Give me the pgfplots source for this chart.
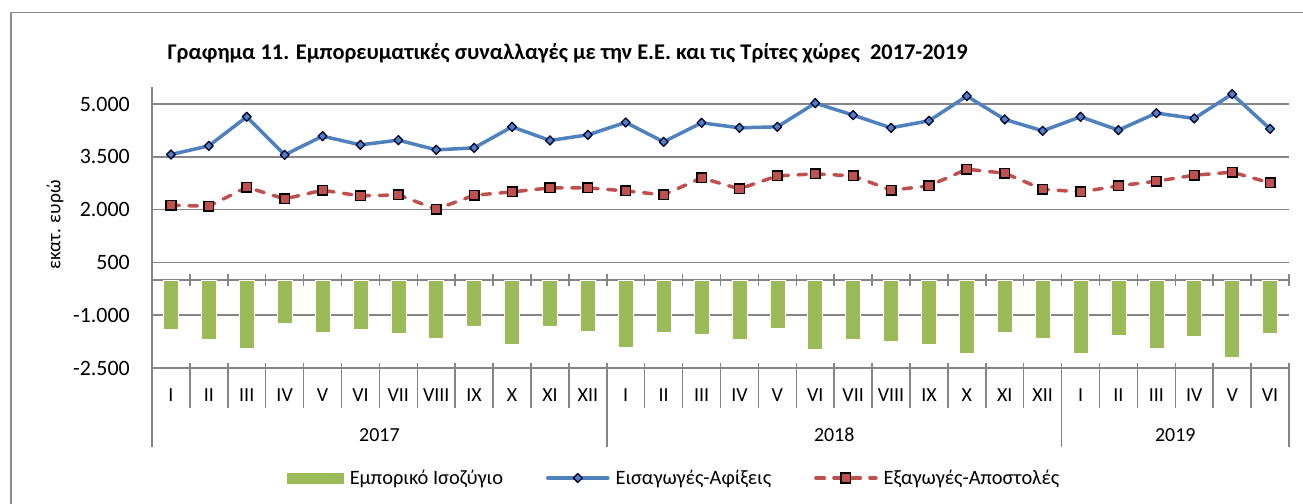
\documentclass[border=0pt]{standalone}
\usepackage{fontspec}
\setmainfont{Carlito}
\usepackage{pgfplots}
\pgfplotsset{compat=1.18}
\definecolor{barfill}{HTML}{9BBB59}
\definecolor{blueline}{HTML}{4F81BD}
\definecolor{redline}{HTML}{C0504D}
\definecolor{gridgray}{HTML}{868686}
\definecolor{framegray}{HTML}{8C8C8C}

\begin{document}
\begin{tikzpicture}
\begin{axis}[
  at={(152bp,136bp)}, anchor=south west,
  scale only axis, width=1137bp, height=281.5bp,
  xmin=-0.5, xmax=29.5, ymin=-2500, ymax=5500,
  clip=false,
  axis line style={draw=none},
  tick style={draw=none}, major tick length=0pt,
  ytick={-2500,-1000,500,2000,3500,5000},
  yticklabels={-2.500,-1.000,500,2.000,3.500,5.000},
  yticklabel style={font=\fontsize{22}{26}\selectfont, anchor=east, inner sep=0pt, xshift=-22bp},
  ymajorgrids, grid style={gridgray, line width=1.5bp},
  xtick={0,...,29},
  xticklabels={I,II,III,IV,V,VI,VII,VIII,IX,X,XI,XII,I,II,III,IV,V,VI,VII,VIII,IX,X,XI,XII,I,II,III,IV,V,VI},
  xticklabel style={font=\fontsize{20}{24}\selectfont, anchor=base, inner sep=0pt, yshift=-33.7bp},
  legend columns=3,
  legend style={at={(0.1187,-0.3908)}, anchor=west, draw=none, fill=none, inner sep=0pt,
    font=\fontsize{20.5}{24}\selectfont, nodes={inner sep=0pt},
    /tikz/every odd column/.style={column sep=6bp},
    /tikz/every even column/.style={column sep=43bp}},
]
% category axis at zero with crossing ticks
\draw[gridgray, line width=1.5bp] (axis cs:-0.5,0) -- (axis cs:29.5,0);
\pgfplotsinvokeforeach{0.5,1.5,...,29.5}{
  \draw[gridgray, line width=1.5bp] ([yshift=6bp]axis cs:#1,0) -- ([yshift=-6bp]axis cs:#1,0);
}
% month separators in the label area
\pgfplotsinvokeforeach{0.5,1.5,...,10.5,12.5,13.5,...,22.5,24.5,25.5,...,28.5}{
  \draw[gridgray, line width=1.5bp] ([yshift=5bp]axis cs:#1,-2500) -- ([yshift=-40bp]axis cs:#1,-2500);
}
% year separators
\pgfplotsinvokeforeach{11.5,23.5,29.5}{
  \draw[gridgray, line width=1.5bp] ([yshift=5bp]axis cs:#1,-2500) -- ([yshift=-79bp]axis cs:#1,-2500);
}
\draw[gridgray, line width=1.5bp] (axis cs:-0.5,5500) -- ([yshift=-79bp]axis cs:-0.5,-2500);
\node[font=\fontsize{20}{24}\selectfont, anchor=base] at ([yshift=-73.7bp]axis cs:5.5,-2500) {2017};
\node[font=\fontsize{20}{24}\selectfont, anchor=base] at ([yshift=-73.7bp]axis cs:17.5,-2500) {2018};
\node[font=\fontsize{20}{24}\selectfont, anchor=base] at ([yshift=-73.7bp]axis cs:26.5,-2500) {2019};

% Εμπορικό Ισοζύγιο
\addplot[ybar, bar width=15bp, fill=barfill, draw=white, line width=0.6bp,
  legend image code/.code={\fill[barfill] (0bp,-5bp) rectangle (56bp,5bp);}]
coordinates {(0,-1404) (1,-1686) (2,-1949) (3,-1235) (4,-1497) (5,-1404) (6,-1526)
(7,-1650) (8,-1328) (9,-1828) (10,-1328) (11,-1460) (12,-1904) (13,-1480) (14,-1554)
(15,-1687) (16,-1384) (17,-1960) (18,-1695) (19,-1743) (20,-1836) (21,-2073) (22,-1489)
(23,-1650) (24,-2090) (25,-1565) (26,-1932) (27,-1602) (28,-2195) (29,-1517)};
\addlegendentry{Εμπορικό Ισοζύγιο}

% Εισαγωγές-Αφίξεις
\addplot[blueline, line width=3.5bp, line cap=round, line join=round,
  mark=diamond*, mark size=4.5bp,
  mark options={draw=black!80!blue, fill=blueline, line width=1.3bp, xscale=1.3},
  legend image code/.code={\draw[mark repeat=2, mark phase=2] plot coordinates {(0bp,0bp) (30bp,0bp) (60bp,0bp)};}]
coordinates {(0,3568) (1,3813) (2,4639) (3,3557) (4,4089) (5,3842) (6,3975) (7,3700)
(8,3756) (9,4354) (10,3967) (11,4126) (12,4479) (13,3927) (14,4468) (15,4326) (16,4354)
(17,5028) (18,4687) (19,4326) (20,4525) (21,5228) (22,4565) (23,4240) (24,4639)
(25,4260) (26,4744) (27,4593) (28,5285) (29,4297)};
\addlegendentry{Εισαγωγές-Αφίξεις}

% Εξαγωγές-Αποστολές
\addplot[redline, line width=3.5bp, line cap=round, dash pattern=on 8.5bp off 9.5bp,
  mark=square*, mark size=4.8bp,
  mark options={solid, draw=black, fill=redline, line width=1.5bp},
  legend image code/.code={\draw[mark repeat=2, mark phase=2] plot coordinates {(0bp,0bp) (30bp,0bp) (60bp,0bp)};}]
coordinates {(0,2125) (1,2097) (2,2638) (3,2305) (4,2553) (5,2390) (6,2420) (7,2012)
(8,2410) (9,2505) (10,2619) (11,2619) (12,2533) (13,2420) (14,2903) (15,2590) (16,2960)
(17,3017) (18,2960) (19,2553) (20,2675) (21,3150) (22,3036) (23,2581) (24,2505)
(25,2675) (26,2809) (27,2979) (28,3065) (29,2761)};
\addlegendentry{Εξαγωγές-Αποστολές}
\end{axis}

\node[anchor=base west, font=\bfseries\fontsize{22.5}{27}\selectfont] at (164bp,444.7bp)
  {Γραφημα 11. Εμπορευματικές συναλλαγές με την Ε.Ε. και τις Τρίτες χώρες\ \ 2017-2019};
\node[rotate=90, font=\fontsize{19.5}{23}\selectfont] at (55bp,279bp) {εκατ. ευρώ};
\draw[framegray, line width=1.2bp] (11bp,-20bp) -- (11bp,491.3bp) -- (1330bp,491.3bp);

\pgfresetboundingbox
\path[use as bounding box] (0bp,0bp) rectangle (1303bp,504bp);
\end{tikzpicture}
\end{document}
